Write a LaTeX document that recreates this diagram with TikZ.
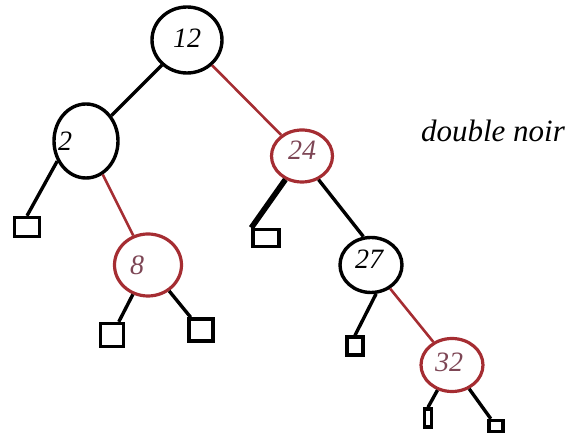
\documentclass[tikz,border=0pt]{standalone}
\usepackage{fontspec}
\setmainfont{Liberation Serif}
\usetikzlibrary{shapes.geometric}
\definecolor{rbred}{RGB}{165,45,50}
\definecolor{rbredtxt}{RGB}{125,70,85}
\begin{document}
\begin{tikzpicture}[x=0.5pt, y=-0.5pt,
  rbnode/.style 2 args={ellipse, draw, line width=1.7pt, inner sep=0pt,
    minimum width=#1*0.5pt, minimum height=#2*0.5pt},
  rednode/.style 2 args={rbnode={#1}{#2}, draw=rbred, line width=1.6pt},
  leaf/.style 2 args={draw, line width=1.7pt, inner sep=0pt,
    minimum width=#1*0.5pt, minimum height=#2*0.5pt},
  num/.style={font=\fontsize{14}{16}\selectfont\itshape},
  blkedge/.style={line width=1.7pt},
  rededge/.style={line width=1.3pt, rbred}]

  \useasboundingbox (0,0) rectangle (574,437);

  % keys of the tree
  \node[rbnode={70}{66}, label={[num, yshift=1pt]center:12}] (n12) at (187,40) {};
  \node[rbnode={64}{74}, label={[num, xshift=-10.5pt]center:2}] (n2) at (86,141) {};
  \node[rednode={61}{52}, label={[num, rbredtxt, yshift=3pt]center:24}] (n24) at (302,156) {};
  \node[rednode={67}{62}, label={[num, rbredtxt, xshift=-5.5pt]center:8}] (n8) at (148,265) {};
  \node[rbnode={62}{55}, label={[num, xshift=-1pt, yshift=3pt]center:27}] (n27) at (371,265) {};
  \node[rednode={62}{53}, label={[num, rbredtxt, xshift=-1.5pt, yshift=1.5pt]center:32}] (n32) at (452,365) {};

  % leaves
  \node[leaf={25}{19}] (l2) at (27,227) {};
  \node[leaf={23}{23}] (l8a) at (112,335) {};
  \node[leaf={24}{22}] (l8b) at (201,330) {};
  \node[leaf={26}{17}] (l24) at (266,238) {};
  \node[leaf={16}{18}] (l27) at (355,346) {};
  \node[leaf={7}{18}] (l32a) at (428,418) {};
  \node[leaf={14}{11}] (l32b) at (496,426) {};

  \node[font=\fontsize{15.5}{18}\selectfont\itshape] (dnoir) at (493,131) {double noir};

  \draw[blkedge] (n12) -- (n2); %% 12->2
  \draw[rededge] (n12) -- (n24); %% 12->24
  \draw[blkedge] (n2.215) -- (l2.north);
  \draw[rededge] (n2) -- (n8); %% 2->8
  \draw[blkedge] (n8) -- (l8a);
  \draw[blkedge] (n8) -- (l8b);
  \draw[blkedge, line width=2.8pt] (n24) -- (l24.north west);
  \draw[blkedge] (n24.-55) -- (n27.105); %% 24->27
  \draw[blkedge] (n27.-80) -- (l27.north);
  \draw[rededge] (n27) -- (n32); %% 27->32
  \draw[blkedge] (n32.-120) -- (l32a.north);
  \draw[blkedge] (n32) -- (l32b);
\end{tikzpicture}
\end{document}
